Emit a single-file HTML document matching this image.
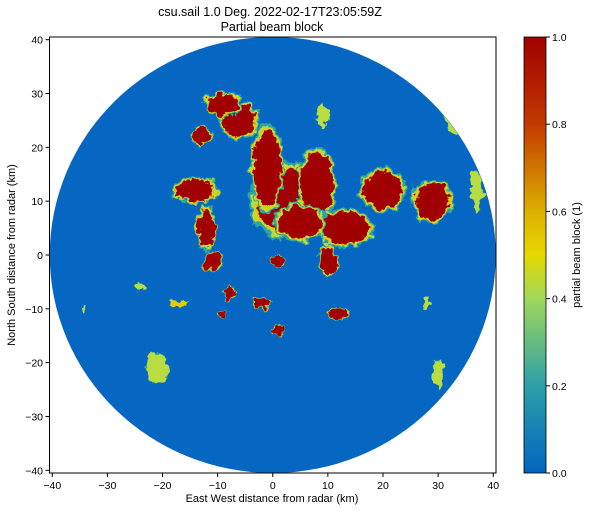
<!DOCTYPE html>
<html><head><meta charset="utf-8"><style>
body{margin:0;background:#fff;font-family:"Liberation Sans",sans-serif}
svg text{font-family:"Liberation Sans",sans-serif;fill:#000}
</style></head><body>
<svg id="c" width="589" height="511">
<defs>
<linearGradient id="cg" x1="0" y1="1" x2="0" y2="0">
<stop offset="0" stop-color="#0066c0"/><stop offset="0.2" stop-color="#2d9fa8"/>
<stop offset="0.4" stop-color="#9fd85a"/><stop offset="0.5" stop-color="#e6d800"/>
<stop offset="0.6" stop-color="#dcb000"/><stop offset="0.8" stop-color="#c33a00"/>
<stop offset="1" stop-color="#a00000"/></linearGradient>
<filter id="rough" x="-30%" y="-30%" width="160%" height="160%">
<feTurbulence type="fractalNoise" baseFrequency="0.12" numOctaves="3" seed="4"/>
<feDisplacementMap in="SourceGraphic" scale="12" xChannelSelector="R" yChannelSelector="G"/></filter>
<clipPath id="disk"><ellipse cx="272.75" cy="255" rx="222.5" ry="218"/></clipPath>
</defs>
<text x="270" y="16" text-anchor="middle" font-size="12.5">csu.sail 1.0 Deg. 2022-02-17T23:05:59Z</text>
<text x="272" y="31" text-anchor="middle" font-size="12.5">Partial beam block</text>
<ellipse cx="272.75" cy="255" rx="223" ry="218" fill="#0567c2"/>
<g id="blobs" clip-path="url(#disk)" filter="url(#rough)"></g>
<rect x="49.5" y="37" width="446.5" height="436" fill="none" stroke="#000" stroke-width="1"/>
<g id="axes"></g>
<text x="272" y="502" text-anchor="middle" font-size="11">East West distance from radar (km)</text>
<text transform="translate(15,255) rotate(-90)" text-anchor="middle" font-size="11">North South distance from radar (km)</text>
<rect x="524" y="37" width="22" height="436" fill="url(#cg)" stroke="#000" stroke-width="0.8"/>
<text transform="translate(580,255) rotate(-90)" text-anchor="middle" font-size="11">partial beam block (1)</text>
</svg>
<script>
const xTicks=[-40,-30,-20,-10,0,10,20,30,40];
const yTicks=[-40,-30,-20,-10,0,10,20,30,40];
const cbTicks=[0.0,0.2,0.4,0.6,0.8,1.0];
// blobs: centre x, centre y (km), radius x, radius y (km), peak block value
const blobX=[3,-1,8,-14,-12,-11,-6,-13,13,20,29,10,1,-8,-2,-9,12,1,-21,-17,30,28,37,34,-24,-34,9,-9,5];
const blobY=[10,16,13,12,5,-1,25,22,5,12,10,-1,-1,-7,-9,-11,-11,-14,-21,-9,-22,-9,12,25,-6,-10,26,28,6];
const blobRX=[6,2.5,3,3.5,1.5,1.5,3,1.5,4.5,3.5,3,1.5,1,1,1.5,0.8,1.5,0.8,2,1.5,1,0.7,1,2.5,1.2,0.4,0.8,3,4];
const blobRY=[6,7,6,2,3.5,1.5,3,1.5,3,3.5,3.5,2.5,1,1,1,0.6,1,1,2.5,0.5,2.5,1.2,3.5,2.5,0.5,0.8,2,2,3];
const blobV=[1,1,1,1,1,1,1,1,1,0.9,0.9,1,1,1,1,1,1,1,0.6,0.8,0.55,0.5,0.5,0.45,0.5,0.4,0.6,0.9,1];
const ns="http://www.w3.org/2000/svg";
const X0=49.5,X1=496,Y0=37,Y1=473,R=40.5;
const sx=v=>X0+(v+R)/(2*R)*(X1-X0), sy=v=>Y1-(v+R)/(2*R)*(Y1-Y0);
const kx=(X1-X0)/(2*R), ky=(Y1-Y0)/(2*R);
const cb=v=>473-v*436;
function mk(t,a,p){const e=document.createElementNS(ns,t);for(const k in a)e.setAttribute(k,a[k]);(p||document.getElementById('axes')).appendChild(e);return e;}
const g=document.getElementById('blobs');
const layers=[[1.22,'#2fa59c',0],[1.13,'#b9dc40',0.3],[1.06,'#e8cc00',0.55],[1.0,'#a00000',0.8]];
blobX.forEach((x,i)=>{const low=blobV[i]<0.7;
 layers.forEach(([s,c,min])=>{if(blobV[i]<min+0.05&&min>0)return;
 let col=c, rs=s;
 if(low){rs=1+(s-1)*0.5; if(s===1.0)col='#e0b000';}
 const e=mk('ellipse',{cx:sx(x),cy:sy(blobY[i]),rx:blobRX[i]*kx*rs,ry:blobRY[i]*ky*rs,fill:col},g);
 
 });});
xTicks.forEach(v=>{const l=mk('line',{x1:sx(v),x2:sx(v),y1:473,y2:477,stroke:'#000'});
 
 const t=mk('text',{x:sx(v),y:489,'text-anchor':'middle','font-size':10.5});t.textContent=v<0?'\u2212'+(-v):v;
 });
yTicks.forEach(v=>{const l=mk('line',{x1:45.5,x2:49.5,y1:sy(v),y2:sy(v),stroke:'#000'});
 
 const t=mk('text',{x:43,y:sy(v)+4,'text-anchor':'end','font-size':10.5});t.textContent=v<0?'\u2212'+(-v):v;
 });
cbTicks.forEach(v=>{const l=mk('line',{x1:546,x2:550,y1:cb(v),y2:cb(v),stroke:'#000'});
 
 const t=mk('text',{x:552,y:cb(v)+4,'font-size':10.5});t.textContent=v.toFixed(1);
 });
</script>
</body></html>
